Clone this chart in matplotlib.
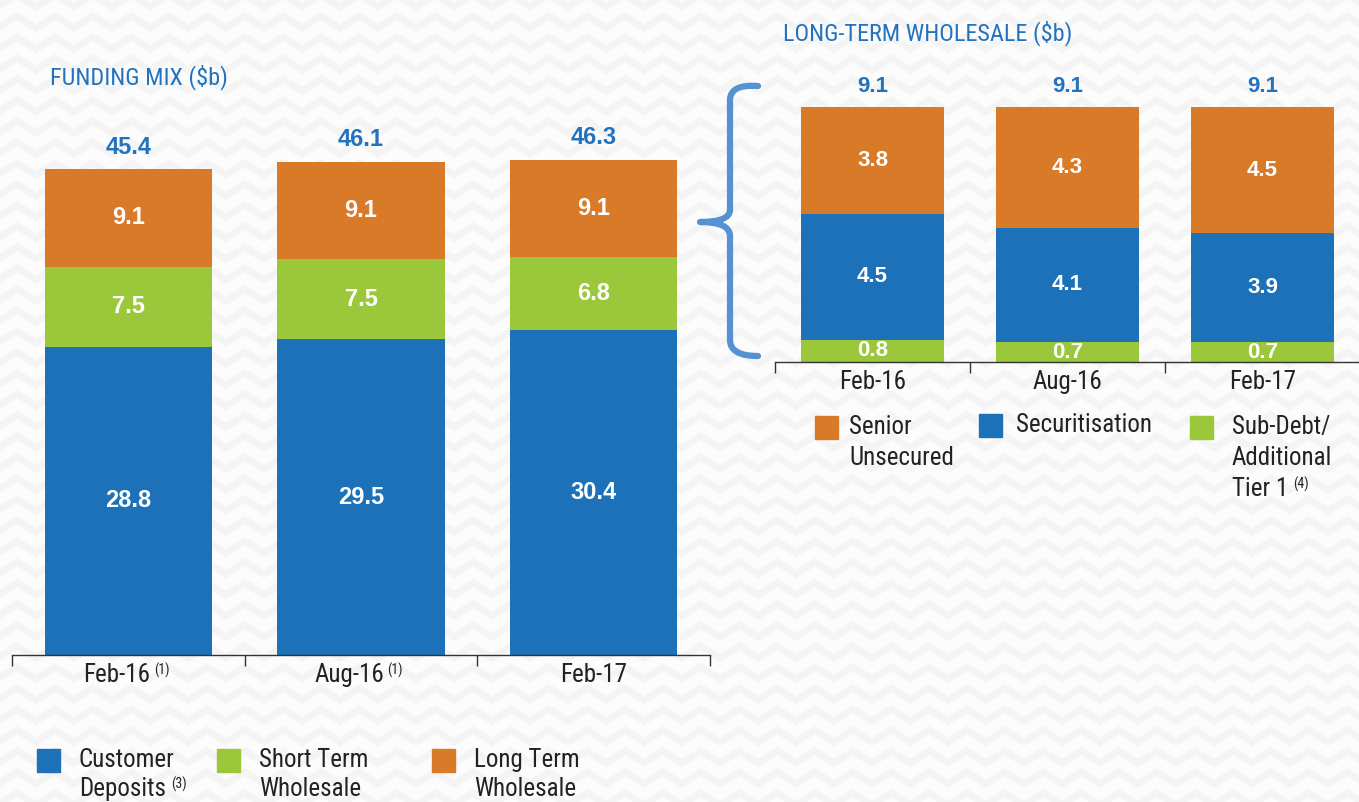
import numpy as np
import matplotlib
matplotlib.use('Agg')
import matplotlib.pyplot as plt
from matplotlib import font_manager
from matplotlib.path import Path
from matplotlib.patches import PathPatch

# funding mix ($b)
mix_periods = ['Feb-16', 'Aug-16', 'Feb-17']
mix_notes = ['(1)', '(1)', '']
customer_deposits = [28.8, 29.5, 30.4]
short_term_wholesale = [7.5, 7.5, 6.8]
long_term_wholesale = [9.1, 9.1, 9.1]
mix_totals = [45.4, 46.1, 46.3]

# long-term wholesale ($b)
ltw_periods = ['Feb-16', 'Aug-16', 'Feb-17']
sub_debt = [0.8, 0.7, 0.7]
securitisation = [4.5, 4.1, 3.9]
senior_unsecured = [3.8, 4.3, 4.5]
ltw_totals = [9.1, 9.1, 9.1]

BLUE = '#1c71b8'
GREEN = '#9bc83a'
ORANGE = '#d97a28'
TITLE_BLUE = '#2272bd'
BRACE = '#5592d2'

W, H = 1359, 802
names = {f.name for f in font_manager.fontManager.ttflist}
NARROW = 'Liberation Sans'
scale = 0.84
for cand in ['Liberation Sans Narrow', 'Roboto Condensed', 'Open Sans Condensed',
             'Arial Narrow', 'Nimbus Sans Narrow']:
    if cand in names:
        NARROW = cand
        scale = 1.0
        break

fig = plt.figure(figsize=(W / 100, H / 100), dpi=100)
fig.patch.set_facecolor('#fcfcfc')

# faint chevron texture in the background
bg = fig.add_axes([0, 0, 1, 1], zorder=-10)
bg.set_xlim(0, W)
bg.set_ylim(H, 0)
bg.axis('off')
xs = np.arange(-40, W + 40, 19)
for row in np.arange(-20, H + 30, 21):
    ys = row + np.where((np.arange(len(xs)) % 2) == 0, 6, -6)
    bg.plot(xs, ys, color='#f4f4f4', lw=5, solid_joinstyle='miter', zorder=0)


def px(x, y):
    return x / W, 1 - y / H


def stacked(ax, segments, colors, totals, fs_in, fs_tot, width, tot_off):
    x = np.arange(len(totals))
    bottom = np.zeros(len(totals))
    for vals, col in zip(segments, colors):
        vals = np.array(vals)
        ax.bar(x, vals, width=width, bottom=bottom, color=col, zorder=2)
        for xi, b, v in zip(x, bottom, vals):
            ax.text(xi, b + v / 2, f'{v:.1f}', ha='center', va='center',
                    color='white', fontsize=fs_in, fontweight='bold',
                    family='Liberation Sans', zorder=3)
        bottom = bottom + vals
    for xi, t in zip(x, totals):
        ax.annotate(f'{t:.1f}', (xi, t), xytext=(0, tot_off), textcoords='offset pixels',
                    ha='center', va='center', color=TITLE_BLUE, fontsize=fs_tot,
                    fontweight='bold', family='Liberation Sans')
    ax.set_xlim(-0.5, len(totals) - 0.5)
    ax.set_facecolor('none')
    for s in ['top', 'right', 'left']:
        ax.spines[s].set_visible(False)
    ax.spines['bottom'].set_color('#333333')
    ax.spines['bottom'].set_linewidth(1.0)
    ax.set_yticks([])
    ax.set_xticks(np.arange(len(totals) + 1) - 0.5)
    ax.set_xticklabels([])
    ax.tick_params(axis='x', length=8, width=1.0, color='#333333', direction='out')


def cat_labels(ax, labels, notes, dy):
    for i, (lab, note) in enumerate(zip(labels, notes)):
        if note:
            ax.annotate(lab, (i, 0), xycoords=('data', 'axes fraction'),
                        xytext=(-12, dy), textcoords='offset pixels',
                        ha='center', va='center', fontsize=18 * scale,
                        family=NARROW, color='#222222')
            ax.annotate(note, (i, 0), xycoords=('data', 'axes fraction'),
                        xytext=(26, dy + 5), textcoords='offset pixels',
                        ha='left', va='center', fontsize=10 * scale,
                        family=NARROW, color='#222222')
        else:
            ax.annotate(lab, (i, 0), xycoords=('data', 'axes fraction'),
                        xytext=(0, dy), textcoords='offset pixels',
                        ha='center', va='center', fontsize=18 * scale,
                        family=NARROW, color='#222222')


# left chart: funding mix
ax1 = fig.add_axes([12 / W, (H - 655) / H, 698 / W, 555 / H])
stacked(ax1, [customer_deposits, short_term_wholesale, long_term_wholesale],
        [BLUE, GREEN, ORANGE], mix_totals, 17, 17, 0.72, 22)
ax1.set_ylim(0, 555 / 10.7)
cat_labels(ax1, mix_periods, mix_notes, -20)
fig.text(*px(50, 77), 'FUNDING MIX ($b)', fontsize=17.5 * scale, family=NARROW,
         color=TITLE_BLUE, va='center', ha='left')

# right chart: long-term wholesale
ax2 = fig.add_axes([775 / W, (H - 362) / H, 585 / W, 302 / H])
stacked(ax2, [sub_debt, securitisation, senior_unsecured],
        [GREEN, BLUE, ORANGE], ltw_totals, 16, 16, 0.73, 21)
ax2.set_ylim(0, 302 / 28.0)
cat_labels(ax2, ltw_periods, ['', '', ''], -20)
fig.text(*px(783, 33), 'LONG-TERM WHOLESALE ($b)', fontsize=17.5 * scale,
         family=NARROW, color=TITLE_BLUE, va='center', ha='left')

# curly brace linking the two charts
verts = [(758, 86), (730, 84), (730, 100), (730, 210), (730, 222), (700, 222),
         (730, 222), (730, 236), (730, 340), (730, 356), (758, 356)]
codes = [Path.MOVETO, Path.CURVE3, Path.CURVE3, Path.LINETO, Path.CURVE3,
         Path.CURVE3, Path.CURVE3, Path.CURVE3, Path.LINETO, Path.CURVE3, Path.CURVE3]
brace = Path([px(*v) for v in verts], codes)
fig.add_artist(PathPatch(brace, transform=fig.transFigure, fill=False,
                         edgecolor=BRACE, lw=4.5, capstyle='round', joinstyle='round'))


def legend_item(x, y, color, lines, note=None, gap=42, step=31):
    fig.patches.append(plt.Rectangle(px(x, y + 23), 23 / W, 23 / H, color=color,
                                     transform=fig.transFigure, figure=fig))
    for k, line in enumerate(lines):
        fig.text(*px(x + gap, y + 11 + step * k), line, fontsize=18 * scale,
                 family=NARROW, color='#222222', va='center', ha='left')
    if note:
        k = len(lines) - 1
        tx = fig.text(*px(x + gap, y + 11 + step * k), lines[-1], fontsize=18 * scale,
                      family=NARROW, color='none', va='center', ha='left')
        fig.canvas.draw()
        bb = tx.get_window_extent()
        fig.text(bb.x1 / W + 5 / W, 1 - (y + 6 + step * k) / H, note,
                 fontsize=10 * scale, family=NARROW, color='#222222',
                 va='center', ha='left')


legend_item(37, 749, BLUE, ['Customer', 'Deposits'], '(3)', step=29)
legend_item(217, 749, GREEN, ['Short Term', 'Wholesale'], step=29)
legend_item(432, 749, ORANGE, ['Long Term', 'Wholesale'], step=29)

legend_item(815, 416, ORANGE, ['Senior', 'Unsecured'], gap=34)
legend_item(979, 414, BLUE, ['Securitisation'], gap=37)
legend_item(1190, 416, GREEN, ['Sub-Debt/', 'Additional', 'Tier 1'], '(4)')

fig.savefig('out.png', dpi=100, facecolor=fig.get_facecolor())
